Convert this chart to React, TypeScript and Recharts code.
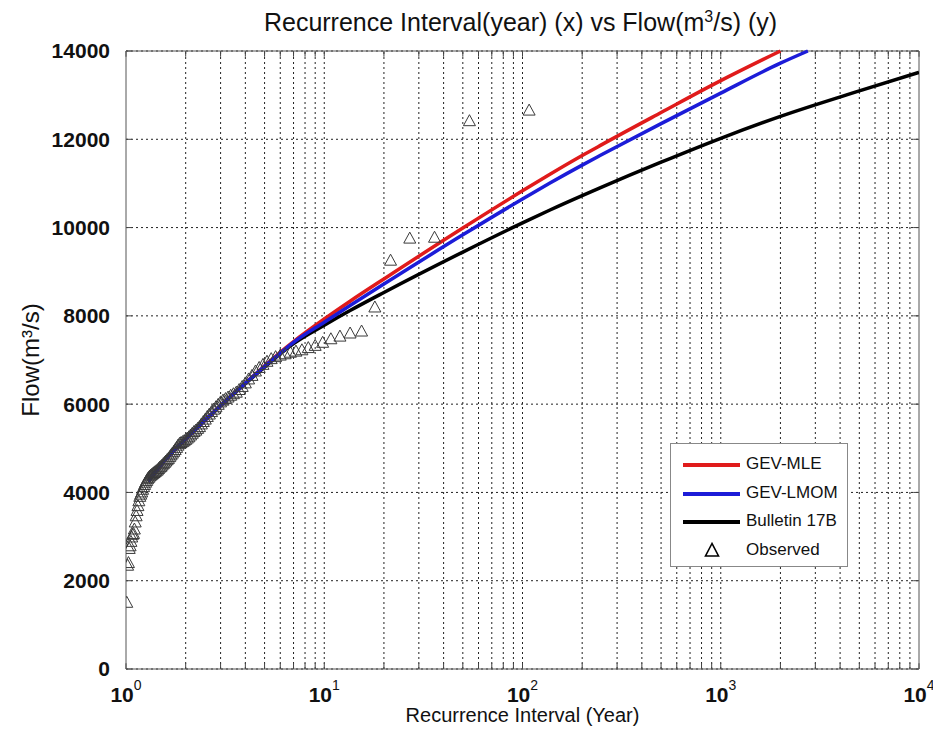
import React from "react";
import {
  ComposedChart,
  Line,
  Scatter,
  XAxis,
  YAxis,
  CartesianGrid,
  ReferenceLine,
  Legend,
} from "recharts";

// tick labels
const xTicks = [1, 10, 100, 1000, 10000];
const yTicks = [0, 2000, 4000, 6000, 8000, 10000, 12000, 14000];

// fitted frequency curves (return period in years -> flow m3/s)
const mlePeriod = [1.3, 1.5, 2, 3, 4, 5, 6, 7, 10, 13.5, 20, 50, 100, 137.6, 200, 246, 500, 1000, 2000];
const mleFlow = [4250, 4623, 5210, 5967, 6479, 6867, 7176, 7417, 7928, 8332, 8836, 9990, 10833, 11207, 11631, 11856, 12606, 13328, 14000];

const lmomPeriod = [1.3, 1.5, 2, 3, 4, 5, 6, 7, 10, 13.5, 20, 50, 100, 137.6, 200, 246, 500, 1000, 2000, 2750];
const lmomFlow = [4250, 4623, 5210, 5967, 6475, 6855, 7155, 7400, 7857, 8235, 8721, 9835, 10648, 11009, 11415, 11631, 12355, 13047, 13724, 14000];

const b17Period = [1.3, 1.5, 2, 3, 4, 5, 6, 7, 10, 13.5, 20, 50, 100, 137.6, 200, 246, 500, 1000, 2000, 5000, 10000];
const b17Flow = [4260, 4630, 5212, 5962, 6465, 6840, 7140, 7370, 7788, 8120, 8530, 9445, 10107, 10398, 10724, 10899, 11480, 12022, 12519, 13096, 13517];

// observed annual peaks, ranked (plotting position in years)
const observedPeriod = [
  108, 54, 36, 27, 21.6, 18, 15.43, 13.5, 12, 10.8,
  9.818, 9, 8.308, 7.714, 7.2, 6.75, 6.353, 6, 5.684, 5.4,
  5.143, 4.909, 4.696, 4.5, 4.32, 4.154, 4, 3.857, 3.724, 3.6,
  3.484, 3.375, 3.273, 3.176, 3.086, 3, 2.919, 2.842, 2.769, 2.7,
  2.634, 2.571, 2.512, 2.455, 2.4, 2.348, 2.298, 2.25, 2.204, 2.16,
  2.118, 2.077, 2.038, 2, 1.964, 1.929, 1.895, 1.862, 1.831, 1.8,
  1.77, 1.742, 1.714, 1.688, 1.662, 1.636, 1.612, 1.588, 1.565, 1.543,
  1.521, 1.5, 1.479, 1.459, 1.44, 1.421, 1.403, 1.385, 1.367, 1.35,
  1.333, 1.317, 1.301, 1.286, 1.271, 1.256, 1.241, 1.227, 1.213, 1.2,
  1.187, 1.174, 1.161, 1.149, 1.137, 1.125, 1.113, 1.102, 1.091, 1.08,
  1.069, 1.059, 1.049, 1.038, 1.029, 1.019, 1.009,
];
const observedFlow = [
  12650, 12410, 9770, 9750, 9250, 8190, 7645, 7600, 7530, 7470,
  7390, 7320, 7270, 7220, 7190, 7165, 7130, 7100, 7065, 7020,
  6960, 6890, 6820, 6740, 6640, 6560, 6470, 6390, 6320, 6260,
  6225, 6190, 6150, 6115, 6080, 6040, 5985, 5930, 5875, 5820,
  5765, 5710, 5650, 5595, 5540, 5480, 5440, 5400, 5370, 5330,
  5290, 5250, 5220, 5190, 5160, 5140, 5120, 5100, 5060, 5010,
  4960, 4920, 4880, 4840, 4800, 4760, 4730, 4700, 4670, 4640,
  4610, 4580, 4560, 4530, 4500, 4480, 4460, 4440, 4420, 4400,
  4380, 4360, 4330, 4300, 4260, 4220, 4170, 4120, 4060, 4000,
  3950, 3900, 3800, 3690, 3580, 3460, 3320, 3160, 3060, 3040,
  2980, 2880, 2780, 2720, 2400, 2340, 1500,
];

const seriesNames = ["GEV-MLE", "GEV-LMOM", "Bulletin 17B", "Observed"];
const seriesColors = ["#e01b1b", "#1c1cd8", "#000000", "#000000"];

const toPoints = (ts: number[], qs: number[]) => ts.map((t, i) => ({ t, flow: qs[i] }));

const mleData = toPoints(mlePeriod, mleFlow);
const lmomData = toPoints(lmomPeriod, lmomFlow);
const b17Data = toPoints(b17Period, b17Flow);
const observedData = toPoints(observedPeriod, observedFlow);

// every log grid position between 1 and 10^4
const logGrid: number[] = [];
for (let k = 0; k < 4; k++) {
  for (let d = 1; d <= 9; d++) logGrid.push(d * Math.pow(10, k));
}
logGrid.push(10000);

const FONT = "'Liberation Sans', Arial, sans-serif";
const dotted = "2 3";

const XTick = (props: any) => {
  const { x, y, payload } = props;
  const exp = Math.round(Math.log10(payload.value));
  return (
    <text x={x} y={y + 31} textAnchor="middle" fontFamily={FONT} fill="#111">
      <tspan fontSize={21} fontWeight="bold">10</tspan>
      <tspan fontSize={14} dy={-12}>{exp}</tspan>
    </text>
  );
};

const Triangle = (props: any) => {
  const { cx, cy } = props;
  if (cx == null || cy == null) return null;
  return (
    <polygon
      points={`${cx},${cy - 6.5} ${cx - 6},${cy + 4.5} ${cx + 6},${cy + 4.5}`}
      fill="none"
      stroke="#3a3a3a"
      strokeWidth={1}
    />
  );
};

const LegendBox = () => (
  <div
    style={{
      position: "relative",
      width: 178,
      height: 124,
      border: "1px solid #888",
      background: "#fff",
      boxSizing: "border-box",
      fontFamily: FONT,
      fontSize: 17,
      color: "#111",
    }}
  >
    {seriesNames.map((name, i) => (
      <div key={name} style={{ position: "absolute", left: 0, top: 7 + i * 28.5, height: 28, width: "100%" }}>
        {i < 3 ? (
          <div style={{ position: "absolute", left: 12, top: 12, width: 57, height: 4, background: seriesColors[i] }} />
        ) : (
          <svg style={{ position: "absolute", left: 33, top: 5 }} width={16} height={16}>
            <polygon points="8,1.5 1.5,14 14.5,14" fill="none" stroke="#000" strokeWidth={1.6} />
          </svg>
        )}
        <span style={{ position: "absolute", left: 75, top: 3, whiteSpace: "nowrap" }}>{name}</span>
      </div>
    ))}
  </div>
);

export default function App() {
  return (
    <div style={{ position: "relative", width: 941, height: 736, margin: -8, background: "#fff", fontFamily: FONT }}>
      <div
        style={{
          position: "absolute",
          left: 0,
          width: 941,
          top: 8,
          textAlign: "center",
          fontSize: 25,
          color: "#111",
          paddingLeft: 100,
          boxSizing: "border-box",
        }}
      >
        Recurrence Interval(year) (x) vs Flow(m<sup style={{ fontSize: 16 }}>3</sup>/s) (y)
      </div>
      <ComposedChart width={941} height={736} margin={{ top: 51, right: 22, bottom: 0, left: 0 }}>
        <CartesianGrid horizontal vertical={false} stroke="#222" strokeDasharray={dotted} />
        {logGrid
          .filter((v) => v > 1 && v < 10000)
          .map((v) => (
            <ReferenceLine key={`g${v}`} x={v} stroke="#222" strokeDasharray={dotted} />
          ))}
        {logGrid.map((v) => (
          <ReferenceLine key={`tb${v}`} segment={[{ x: v, y: 0 }, { x: v, y: 130 }]} stroke="#444" />
        ))}
        {logGrid.map((v) => (
          <ReferenceLine key={`tt${v}`} segment={[{ x: v, y: 13870 }, { x: v, y: 14000 }]} stroke="#444" />
        ))}
        {yTicks.map((v) => (
          <ReferenceLine key={`yl${v}`} segment={[{ x: 1, y: v }, { x: 1.07, y: v }]} stroke="#444" />
        ))}
        {yTicks.map((v) => (
          <ReferenceLine key={`yr${v}`} segment={[{ x: 10000 / 1.07, y: v }, { x: 10000, y: v }]} stroke="#444" />
        ))}
        <ReferenceLine y={14000} stroke="#555" />
        <ReferenceLine x={10000} stroke="#555" />
        <XAxis
          dataKey="t"
          type="number"
          scale="log"
          domain={[1, 10000]}
          allowDataOverflow
          ticks={xTicks}
          interval={0}
          height={67}
          tick={<XTick />}
          tickLine={false}
          tickSize={0}
          axisLine={{ stroke: "#555" }}
          label={{
            value: "Recurrence Interval (Year)",
            position: "insideBottom",
            offset: 14,
            style: { fontSize: 20, fill: "#111", fontFamily: FONT },
          }}
        />
        <YAxis
          type="number"
          domain={[0, 14000]}
          ticks={yTicks}
          interval={0}
          width={126}
          tickLine={false}
          tickSize={0}
          tickMargin={16}
          axisLine={{ stroke: "#555" }}
          tick={{ fontSize: 21, fontWeight: "bold", fill: "#111", fontFamily: FONT }}
          label={{
            value: "Flow(m³/s)",
            angle: -90,
            position: "insideLeft",
            offset: 30,
            style: { fontSize: 24, fill: "#111", fontFamily: FONT, textAnchor: "middle" },
          }}
        />
        <Line data={b17Data} dataKey="flow" type="monotone" stroke={seriesColors[2]} strokeWidth={3.5} dot={false} isAnimationActive={false} name={seriesNames[2]} />
        <Line data={mleData} dataKey="flow" type="monotone" stroke={seriesColors[0]} strokeWidth={3.5} dot={false} isAnimationActive={false} name={seriesNames[0]} />
        <Line data={lmomData} dataKey="flow" type="monotone" stroke={seriesColors[1]} strokeWidth={3.5} dot={false} isAnimationActive={false} name={seriesNames[1]} />
        <Scatter data={observedData} dataKey="flow" shape={<Triangle />} isAnimationActive={false} name={seriesNames[3]} />
        <Legend
          layout="horizontal"
          verticalAlign="middle"
          align="center"
          content={<LegendBox />}
          wrapperStyle={{ left: 670, top: 443, width: 178, height: 124 }}
        />
      </ComposedChart>
    </div>
  );
}
